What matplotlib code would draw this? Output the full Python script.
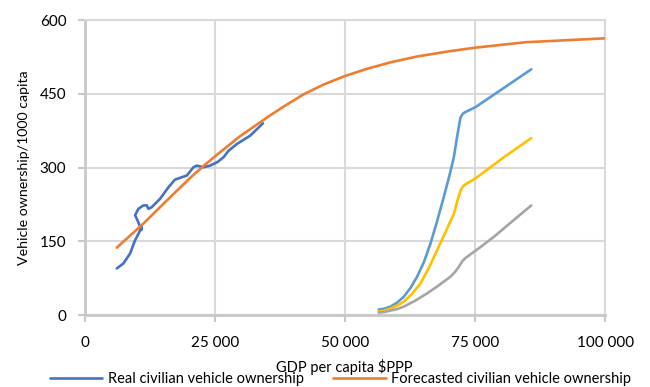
import numpy as np
import matplotlib.pyplot as plt
from matplotlib.ticker import FuncFormatter

# real civilian vehicle ownership (GDP per capita, vehicles/1000)
real_gdp = [6190, 7460, 8750, 9710, 10540, 10670, 11000, 10950, 10040, 9710, 10350, 11310,
            11960, 12270, 12920, 14520, 16120, 17400, 19650, 20920, 21580, 22850, 24130,
            25500, 26700, 27650, 29270, 31830, 34270]
real_veh = [94.7, 104.8, 125, 152, 169, 172, 181, 173, 196, 203, 216, 223,
            223, 216, 219.5, 236.5, 260, 275.7, 283.8, 300.6, 304, 300.6, 304,
            311, 321, 334, 348, 365, 390]

# forecasted civilian vehicle ownership
fc_gdp = [6190, 11310, 15810, 20290, 22850, 24960, 29900, 35350, 38230, 42080, 45930,
          49960, 54270, 58750, 63880, 70290, 75100, 84710, 100000]
fc_veh = [137, 186, 233, 279, 303, 322, 364, 404, 424, 449, 469,
          486, 501, 514, 526, 537, 544, 555, 563]

# three simulated scenarios (no legend entries)
s1_gdp = [56500, 57600, 58750, 60000, 61310, 62600, 63880, 65200, 66440, 67700, 69000, 70000,
          70940, 71600, 72210, 72700, 73170, 75100, 80540, 85810]
s1_veh = [11, 13, 17, 25, 37, 55, 78, 108, 145, 190, 240, 280,
          321, 365, 402, 410, 413, 423, 462, 500]
s2_gdp = [56500, 57600, 58750, 60000, 61310, 62900, 64520, 66100, 67730, 69300, 70940, 71600,
          72210, 72700, 73170, 75100, 80540, 85810]
s2_veh = [7, 9, 13, 19, 27, 43, 64, 95, 132, 168, 206, 232,
          253, 262, 266, 278, 321, 360]
s3_gdp = [56500, 57600, 58750, 60000, 61310, 63500, 65800, 68000, 70290, 71200, 71890, 72600,
          73170, 75900, 78620, 82200, 85810]
s3_veh = [5, 6, 9, 12, 17, 29, 44, 60, 78, 88, 98, 110,
          116, 137, 159, 191, 223]

x_ticks = [0, 25000, 50000, 75000, 100000]
y_ticks = [0, 150, 300, 450, 600]

plt.rcParams['font.family'] = ['Lato', 'DejaVu Sans']
fig = plt.figure(figsize=(6.5, 3.87), dpi=100)
ax = fig.add_axes([0.130, 0.186, 0.801, 0.762])

grid_c = '#d9d9d9'
kw = dict(lw=1.9, solid_joinstyle='round', solid_capstyle='round')
l1, = ax.plot(real_gdp, real_veh, color='#4472c4', zorder=4, **kw)
l2, = ax.plot(fc_gdp, fc_veh, color='#ed7d31', zorder=5, **kw)
ax.plot(s1_gdp, s1_veh, color='#5b9bd5', zorder=3, **kw)
ax.plot(s2_gdp, s2_veh, color='#ffc000', zorder=3, **kw)
ax.plot(s3_gdp, s3_veh, color='#a5a5a5', zorder=3, **kw)

ax.set_xlim(0, 100000)
ax.set_ylim(0, 600)
ax.set_xticks(x_ticks)
ax.set_yticks(y_ticks)
ax.xaxis.set_major_formatter(FuncFormatter(lambda v, p: '{:,}'.format(int(v)).replace(',', ' ')))
ax.grid(True, color=grid_c, lw=1.5)
ax.set_axisbelow(True)
for s in ['top', 'right']:
    ax.spines[s].set_color(grid_c)
    ax.spines[s].set_linewidth(1.5)
for s in ['left', 'bottom']:
    ax.spines[s].set_color('#c8c8c8')
    ax.spines[s].set_linewidth(2)
ax.tick_params(axis='both', colors='#c8c8c8', width=1.5, length=5, labelcolor='black', labelsize=11)
ax.tick_params(axis='y', pad=8)
ax.tick_params(axis='x', pad=10)

ax.set_ylabel('Vehicle ownership/1000 capita', fontsize=10.2, labelpad=7)
fig.text(0.53, 0.052, 'GDP per capita $PPP', ha='center', va='center', fontsize=10.5)

fig.legend([l1, l2], ['Real civilian vehicle ownership', 'Forecasted civilian vehicle ownership'],
           loc='center left', bbox_to_anchor=(0.065, 0.02), ncol=2, frameon=False, fontsize=10.5,
           handlelength=3.6, handletextpad=0.4, columnspacing=2.0, borderpad=0)

plt.savefig('out.png', dpi=100)
